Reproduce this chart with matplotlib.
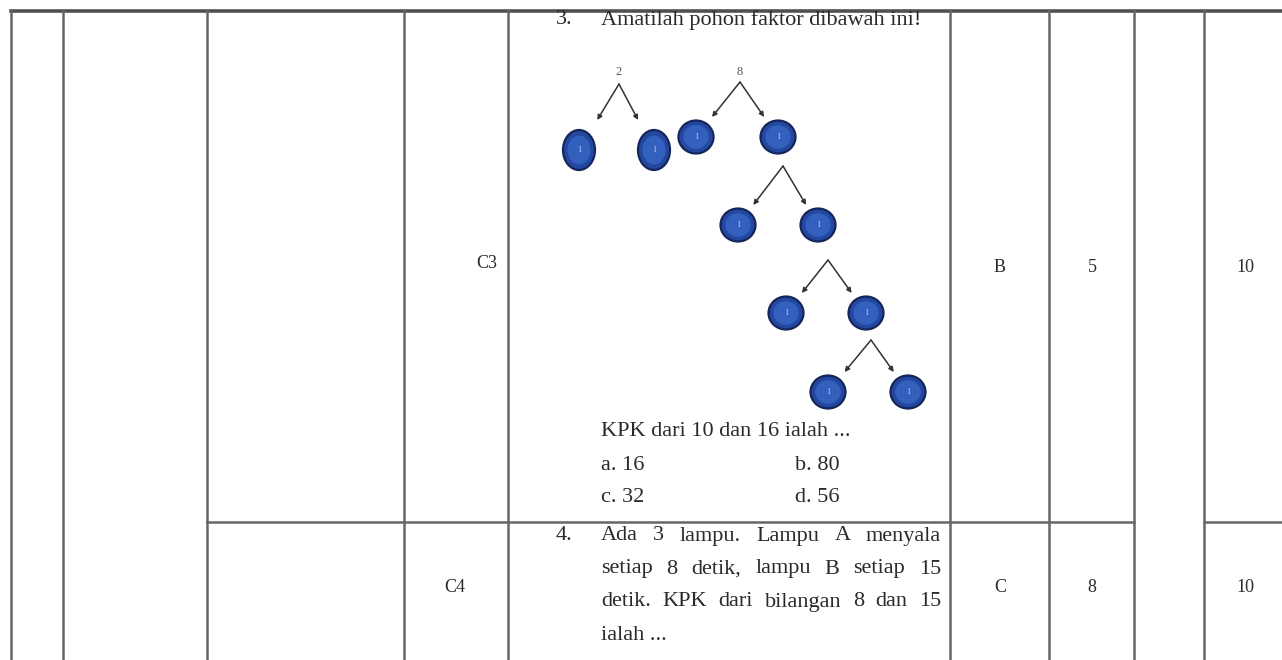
import matplotlib.pyplot as plt
from matplotlib.patches import Ellipse

# isi tabel
kode = ["C3", "C4"]
kunci = ["B", "C"]
nomor = ["5", "8"]
skor = ["10", "10"]

judul_soal3 = "Amatilah pohon faktor dibawah ini!"
soal3 = "KPK dari 10 dan 16 ialah ..."
opsi3 = ["a. 16", "b. 80", "c. 32", "d. 56"]
soal4 = ["Ada 3 lampu. Lampu A menyala",
         "setiap 8 detik, lampu B setiap 15",
         "detik. KPK dari bilangan 8 dan 15",
         "ialah ..."]

# pohon faktor: akar dan pasangan cabang (induk -> dua anak)
akar = [("2", 619, 72), ("8", 740, 72)]
cabang = [
    ((619, 84), [(579, 150), (654, 150)]),
    ((740, 82), [(696, 137), (778, 137)]),
    ((783, 166), [(738, 225), (818, 225)]),
    ((828, 260), [(786, 313), (866, 313)]),
    ((871, 340), [(828, 392), (908, 392)]),
]
label_simpul = ["1", "1", "1", "1", "1", "1", "1", "1", "1", "1"]

W, H = 1282, 660
fig = plt.figure(figsize=(W / 100, H / 100), dpi=100)
ax = fig.add_axes([0, 0, 1, 1])
ax.set_xlim(0, W)
ax.set_ylim(H, 0)
ax.axis("off")

serif = "Liberation Serif"
lc = "#666666"
lw = 1.8
tc = "#2a2a2a"

# garis tabel
ax.plot([11, W], [11, 11], color="#505050", lw=2.6)
for x in [11, 63, 207, 404, 508, 950, 1049, 1134, 1204]:
    ax.plot([x, x], [11, H], color=lc, lw=lw)
ax.plot([207, 1134], [522, 522], color=lc, lw=lw)
ax.plot([1204, W], [522, 522], color=lc, lw=lw)

# kolom kanan
ax.text(487, 264, kode[0], fontsize=13, family=serif, ha="center", va="center", color=tc)
ax.text(455, 588, kode[1], fontsize=13, family=serif, ha="center", va="center", color=tc)
for i, y in enumerate([267, 588]):
    ax.text(1000, y, kunci[i], fontsize=13, family=serif, ha="center", va="center", color=tc)
    ax.text(1092, y, nomor[i], fontsize=13, family=serif, ha="center", va="center", color=tc)
    ax.text(1245, y, skor[i], fontsize=13, family=serif, ha="center", va="center", color=tc)

# soal 3
fs = 16
ax.text(556, 20, "3.", fontsize=fs, family=serif, va="center", color=tc)
ax.text(601, 20, judul_soal3, fontsize=fs, family=serif, va="center", color=tc)

for lab, x, y in akar:
    ax.text(x, y, lab, fontsize=9, family=serif, ha="center", va="center", color="#555555")

k = 0
for (px, py), anak in cabang:
    for cx, cy in anak:
        dx, dy = cx - px, cy - py
        ey = cy - 30 if cy == 150 else cy - 20
        ex = px + dx * (ey - py) / dy
        ax.annotate("", xy=(ex, ey), xytext=(px, py),
                    arrowprops=dict(arrowstyle="-|>", color="#333333", lw=1.1,
                                    mutation_scale=7, shrinkA=0, shrinkB=0))
        h = 40 if cy == 150 else 33
        w = 32 if cy == 150 else 35
        ax.add_patch(Ellipse((cx, cy), w, h, facecolor="#24479f", edgecolor="#15265a", lw=1.6))
        ax.add_patch(Ellipse((cx, cy), w * 0.72, h * 0.72, facecolor="#3460bd", edgecolor="none"))
        ax.text(cx, cy, label_simpul[k], fontsize=6, family=serif, ha="center", va="center",
                color="#b5ccf2")
        k += 1

ax.text(601, 432, soal3, fontsize=fs, family=serif, va="center", color=tc)
for j, op in enumerate(opsi3):
    x = 601 if j % 2 == 0 else 795
    y = 465 if j < 2 else 498
    ax.text(x, y, op, fontsize=fs, family=serif, va="center", color=tc)

# soal 4 (rata kanan-kiri)
ax.text(556, 536, "4.", fontsize=fs, family=serif, va="center", color=tc)
fig.canvas.draw()
r = fig.canvas.get_renderer()
x0, x1 = 601, 941
for n, baris in enumerate(soal4):
    y = 536 + n * 33
    if n == len(soal4) - 1:
        ax.text(x0, y, baris, fontsize=fs, family=serif, va="center", color=tc)
        continue
    kata = baris.split()
    objs = [ax.text(0, y, w_, fontsize=fs, family=serif, va="center", color=tc) for w_ in kata]
    lebar = [t.get_window_extent(renderer=r).width for t in objs]
    gap = ((x1 - x0) - sum(lebar)) / (len(kata) - 1)
    x = x0
    for t, wd in zip(objs, lebar):
        t.set_x(x)
        x += wd + gap

fig.savefig("out.png", dpi=100, facecolor="white")
